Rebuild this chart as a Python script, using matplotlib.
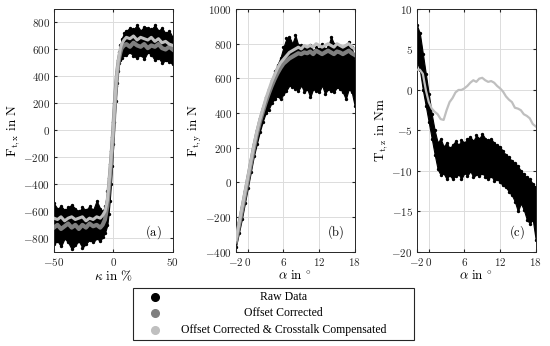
import matplotlib
matplotlib.use("Agg")
import matplotlib.pyplot as plt
from matplotlib.patches import Rectangle
from matplotlib.lines import Line2D

plt.rcParams['mathtext.fontset'] = 'cm'
plt.rcParams['font.family'] = 'Liberation Serif'

# ---- panel (a): longitudinal force over slip ----
xa = [-50, -47, -44, -41, -38, -35, -32, -29, -26, -23, -20, -17, -14, -11, -9, -7, -5, -4, -3, -2, -1, 0,
      1, 2, 3, 4, 5, 6, 7, 9, 11, 14, 17, 20, 23, 26, 29, 32, 35, 38, 41, 44, 47, 50]
raw_hi_a = [-540, -580, -560, -590, -570, -550, -580, -600, -570, -590, -560, -590, -520, -580, -600, -560, -450, -350,
            -250, -150, -50, 60, 200, 330, 440, 520, 580, 630, 680, 720, 740, 760, 750, 780, 740, 770, 760, 750, 780,
            740, 760, 720, 740, 690]
raw_lo_a = [-840, -820, -860, -800, -830, -880, -850, -820, -870, -840, -810, -830, -800, -820, -790, -760, -700, -620,
            -520, -400, -260, -100, 60, 220, 350, 440, 500, 520, 540, 560, 560, 580, 550, 540, 560, 530, 580, 560, 520,
            540, 500, 520, 510, 490]
off_a = [-720, -700, -730, -710, -690, -720, -700, -730, -700, -720, -690, -710, -700, -720, -700, -660, -560, -460,
         -360, -250, -130, 0, 150, 290, 400, 480, 540, 580, 610, 630, 640, 620, 650, 630, 620, 640, 610, 630, 620, 640,
         610, 600, 620, 600]
comp_a = [-650, -660, -640, -670, -650, -640, -660, -650, -640, -670, -650, -660, -640, -650, -630, -600, -520, -430,
          -330, -220, -100, 20, 170, 310, 420, 500, 560, 610, 640, 670, 690, 680, 700, 670, 690, 680, 670, 690, 660,
          680, 650, 660, 640, 630]

# ---- panels (b), (c): lateral force and aligning torque over slip angle ----
xb = [-2, -1.5, -1, -0.5, 0, 0.5, 1, 1.5, 2, 2.5, 3, 3.5, 4, 4.5, 5, 5.5, 6, 6.5, 7, 7.5, 8, 8.5, 9, 9.5, 10, 10.5,
      11, 11.5, 12, 12.5, 13, 13.5, 14, 14.5, 15, 15.5, 16, 16.5, 17, 17.5, 18]
raw_hi_b = [-320, -230, -140, -50, 40, 130, 220, 300, 370, 430, 490, 540, 590, 640, 680, 720, 780, 830, 840, 800, 850,
            790, 790, 780, 770, 790, 760, 780, 770, 800, 770, 780, 840, 800, 790, 780, 770, 790, 810, 780, 700]
raw_lo_b = [-370, -290, -210, -120, -30, 60, 150, 220, 290, 350, 400, 420, 460, 480, 500, 480, 510, 530, 560, 550, 540,
            530, 560, 520, 540, 490, 540, 530, 520, 560, 510, 540, 530, 520, 550, 540, 520, 480, 540, 520, 440]
off_b = [-340, -250, -165, -75, 15, 105, 195, 275, 345, 405, 460, 510, 555, 595, 630, 660, 685, 700, 715, 725, 735, 745,
         740, 750, 745, 755, 740, 760, 750, 740, 750, 760, 750, 740, 755, 750, 740, 750, 760, 745, 735]
comp_b = [-330, -240, -150, -60, 30, 120, 210, 290, 360, 420, 480, 530, 580, 620, 660, 690, 710, 730, 750, 760, 770,
          780, 770, 790, 780, 790, 780, 800, 790, 780, 790, 800, 790, 780, 800, 790, 780, 790, 800, 780, 770]

raw_hi_c = [8, 7, 4.5, 2, -0.5, -3, -5, -6.5, -6, -7, -6.5, -7.2, -6.8, -6.3, -6.8, -6.2, -6.5, -6, -5.8, -6.3, -5.6,
            -6, -5.4, -6, -6.2, -6, -6.6, -6.8, -7, -7.6, -8, -8.3, -8.8, -9, -9.4, -10, -10.4, -10.8, -11, -11.6, -12]
raw_lo_c = [3.5, 2.5, 0, -2, -4, -6, -8, -9.8, -10.5, -10.3, -11, -10.5, -11, -10.6, -10.4, -11, -10.2, -10.6, -10,
            -10.8, -10.4, -10.6, -10.2, -10.8, -11, -10.6, -11.2, -11, -11.4, -11.8, -12, -12.6, -13, -13.8, -15, -14,
            -14.8, -16, -16.5, -16, -18.5]
comp_c = [2.5, 2.5, 2, 0, -1.5, -2.3, -2.7, -3, -3.6, -3.7, -2.5, -1.5, -1, -0.3, 0, 0, 0.2, 0.5, 0.9, 1.2, 1.0, 1.4,
          1.5, 1.2, 1.0, 1.1, 0.9, 0.5, 0.2, -0.2, -0.8, -1.2, -1.5, -2.2, -2.3, -2.5, -3, -3.2, -3.5, -4.2, -4.5]

series_labels = ['Raw Data', 'Offset Corrected', 'Offset Corrected & Crosstalk Compensated']
series_colors = ['#000000', '#7f7f7f', '#bfbfbf']

fig = plt.figure(figsize=(5.5, 3.46), dpi=100)
pos = [0.098, 0.429, 0.758]
axes = [fig.add_axes([p, 0.272, 0.216, 0.702]) for p in pos]

panels = [
    (xa, raw_hi_a, raw_lo_a, off_a, comp_a, (-50, 50), (-900, 900), [-50, 0, 50],
     list(range(-800, 801, 200)), r'$\kappa\ \mathrm{in}\ \%$', r'$\mathrm{F}_{\mathrm{t,x}}\ \mathrm{in\ N}$', 'a'),
    (xb, raw_hi_b, raw_lo_b, off_b, comp_b, (-2, 18), (-400, 1000), [-2, 0, 6, 12, 18],
     list(range(-400, 1001, 200)), r'$\alpha\ \mathrm{in}\ ^{\circ}$', r'$\mathrm{F}_{\mathrm{t,y}}\ \mathrm{in\ N}$', 'b'),
    (xb, raw_hi_c, raw_lo_c, None, comp_c, (-2, 18), (-20, 10), [-2, 0, 6, 12, 18],
     list(range(-20, 11, 5)), r'$\alpha\ \mathrm{in}\ ^{\circ}$', r'$\mathrm{T}_{\mathrm{t,z}}\ \mathrm{in\ Nm}$', 'c'),
]

for ax, (x, hi, lo, off, comp, xl, yl, xt, yt, xlab, ylab, tag) in zip(axes, panels):
    ax.fill_between(x, lo, hi, color='black', lw=0.8, zorder=2)
    ax.scatter(x + x, hi + lo, s=2, color='black', zorder=2)
    if off is not None:
        ax.plot(x, off, color=series_colors[1], lw=3, zorder=3)
    ax.plot(x, comp, color=series_colors[2], lw=2.2 if off is not None else 1.6, zorder=4)
    ax.set_xlim(*xl)
    ax.set_ylim(*yl)
    ax.set_xticks(xt, labels=[f'${t}$' for t in xt])
    ax.set_yticks(yt, labels=[f'${t}$' for t in yt])
    ax.tick_params(direction='in', length=2, labelsize=8, colors='#262626', pad=3, top=True, right=True)
    ax.grid(True, color='#dcdcdc', lw=0.7, zorder=0)
    ax.set_axisbelow(True)
    for s in ax.spines.values():
        s.set_color('#262626')
        s.set_linewidth(0.7)
    ax.set_xlabel(xlab, fontsize=9.5, labelpad=1)
    ax.set_ylabel(ylab, fontsize=9.5, labelpad=1)
    ax.text(0.84, 0.08, r'$\mathrm{(' + tag + r')}$', transform=ax.transAxes, ha='center', va='center',
            fontsize=9, zorder=6)

# legend box drawn in figure coordinates, entries centered like the original
fig.patches.append(Rectangle((0.242, 0.017), 0.511, 0.151, transform=fig.transFigure,
                             facecolor='white', edgecolor='#262626', lw=0.8))
for i, (lab, col) in enumerate(zip(series_labels, series_colors)):
    y = 0.142 - i * 0.048
    fig.lines.append(Line2D([0.282], [y], transform=fig.transFigure, marker='o', ms=5.5,
                            color=col, ls='none'))
    fig.text(0.515, y, lab, ha='center', va='center', fontsize=8.5)

fig.savefig('out.png', dpi=100)
